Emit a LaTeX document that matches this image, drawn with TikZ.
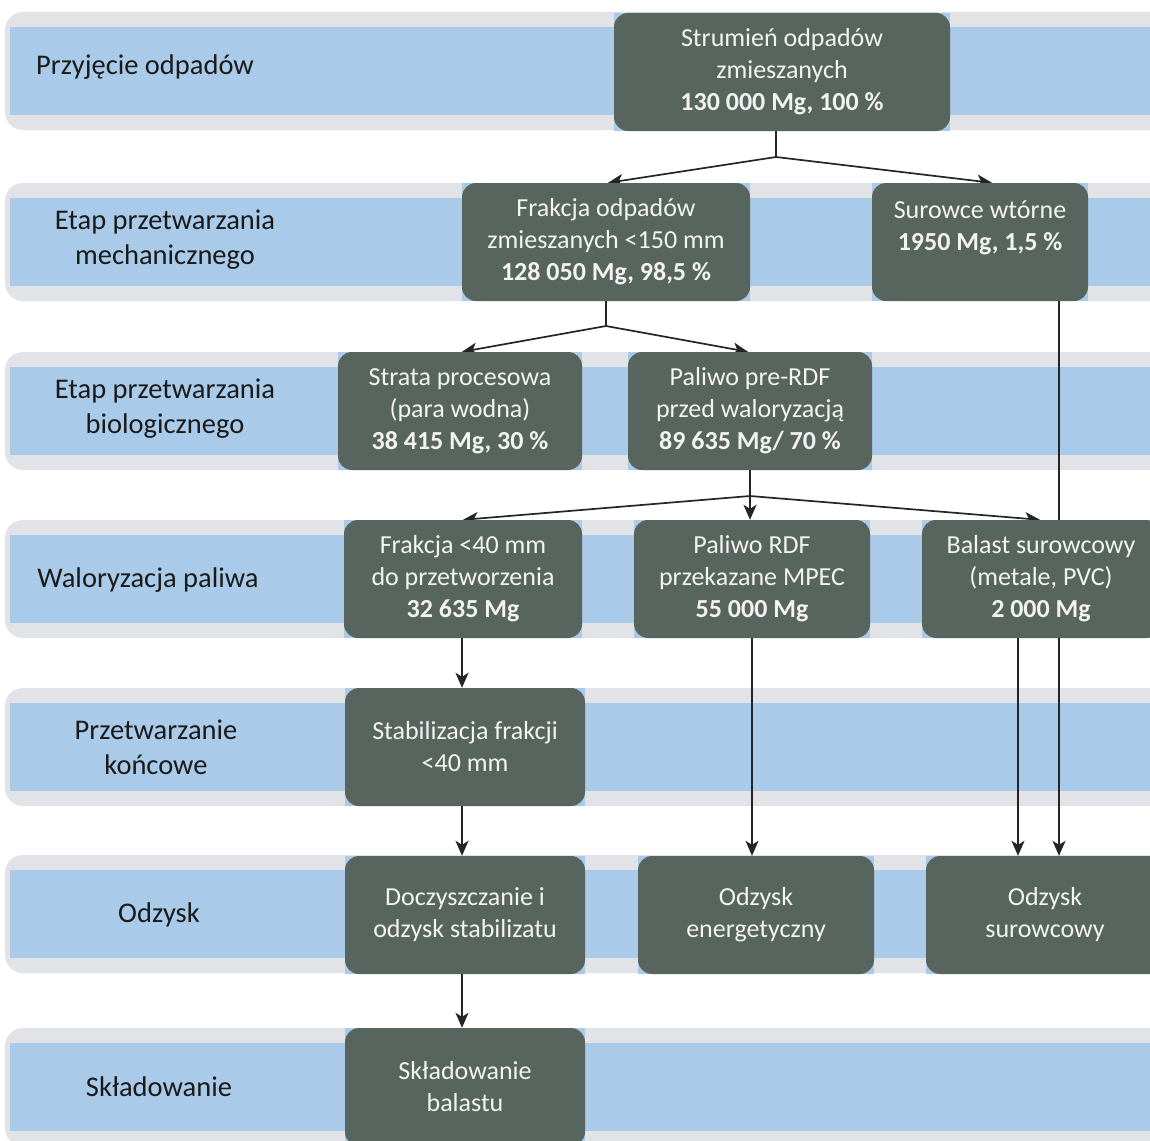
\documentclass[tikz,border=0pt]{standalone}
\usepackage{fontspec}
\setmainfont{Carlito}
\usetikzlibrary{arrows.meta,calc}
\definecolor{boxc}{RGB}{88,100,94}
\definecolor{boxtxt}{RGB}{242,243,242}
\definecolor{bandblue}{RGB}{169,203,233}
\definecolor{bandgray}{RGB}{225,227,230}
\definecolor{linec}{RGB}{38,36,38}
\definecolor{labc}{RGB}{26,26,26}
\pgfdeclarelayer{bg}
\pgfdeclarelayer{mid}
\pgfsetlayers{bg,mid,main}
\newcommand{\boxfont}{\fontsize{26}{32}\selectfont}
\newcommand{\labfont}{\fontsize{28.5}{35}\selectfont}
\tikzset{
  box/.style={rounded corners=14pt, fill=boxc, text=boxtxt, minimum height=118pt,
              align=center, font=\boxfont, inner sep=0pt},
  lab/.style={align=center, font=\labfont, text=labc, inner sep=0pt},
  ln/.style={draw=linec, line width=1.7pt},
  arr/.style={draw=linec, line width=1.7pt, -{Stealth[length=15pt,width=13pt,inset=4pt]}}
}
\begin{document}
\begin{tikzpicture}[x=1pt,y=-1pt]
\useasboundingbox (0,0) rectangle (1150,1140);
% bands
\begin{pgfonlayer}{bg}
\foreach \t in {12,183,352,520,688,855,1028} {
  \fill[bandgray, rounded corners=18pt] (5,\t) rectangle (1180,\t+118);
  \fill[bandblue] (10,\t+15) rectangle (1180,\t+103);
}
\end{pgfonlayer}
% row labels
\node[lab] (l1) at (145,67) {Przyjęcie odpadów};
\node[lab] (l2) at (165,240) {Etap przetwarzania\\mechanicznego};
\node[lab] (l3) at (165,409) {Etap przetwarzania\\biologicznego};
\node[lab] (l4) at (148,580) {Waloryzacja paliwa};
\node[lab] (l5) at (156,747) {Przetwarzanie\\końcowe};
\node[lab] (l6) at (159,915) {Odzysk};
\node[lab] (l7) at (159,1087) {Składowanie};
% boxes
\node[box, minimum width=336pt] (strum) at (782,72) {Strumień odpadów\\zmieszanych\\\textbf{130 000 Mg, 100 \%}};
\node[box, minimum width=288pt] (frak) at (606,242) {Frakcja odpadów\\zmieszanych <150 mm\\\textbf{128 050 Mg, 98,5 \%}};
\node[box, minimum width=216pt] (surow) at (980,242) {Surowce wtórne\\\textbf{1950 Mg, 1,5 \%}\\\mbox{}};
\node[box, minimum width=244pt] (strata) at (460,411) {Strata procesowa\\(para wodna)\\\textbf{38 415 Mg, 30 \%}};
\node[box, minimum width=244pt] (prerdf) at (750,411) {Paliwo pre-RDF\\przed waloryzacją\\\textbf{89 635 Mg/ 70 \%}};
\node[box, minimum width=238pt] (fr40) at (463,579) {Frakcja <40 mm\\do przetworzenia\\\textbf{32 635 Mg}};
\node[box, minimum width=236pt] (rdf) at (752,579) {Paliwo RDF\\przekazane MPEC\\\textbf{55 000 Mg}};
\node[box, minimum width=238pt] (balast) at (1041,579) {Balast surowcowy\\(metale, PVC)\\\textbf{2 000 Mg}};
\node[box, minimum width=240pt] (stab) at (465,747) {Stabilizacja frakcji\\<40 mm};
\node[box, minimum width=240pt] (docz) at (465,915) {Doczyszczanie i\\odzysk stabilizatu};
\node[box, minimum width=236pt] (energ) at (756,915) {Odzysk\\energetyczny};
\node[box, minimum width=238pt] (surowc) at (1045,915) {Odzysk\\surowcowy};
\node[box, minimum width=240pt] (sklad) at (465,1087) {Składowanie\\balastu};
% junctions and line positions
\coordinate (j1) at (776,157);
\coordinate (j2) at (606,326);
\coordinate (j3) at (750,496);
\coordinate (sx) at (1059,0);
\coordinate (bx) at (1018,0);
\begin{pgfonlayer}{mid}
\foreach \n in {strum,frak,surow,strata,prerdf,fr40,rdf,balast,stab,docz,energ,surowc,sklad}
  \fill[bandblue] (\n.north west) rectangle (\n.south east);
% connectors
\draw[ln] (j1 |- strum.south) -- (j1);
\draw[arr] (j1) -- ($(frak.north)+(2,0)$);
\draw[arr] (j1) -- ($(surow.north)+(12,0)$);
\draw[ln] (frak.south) -- (j2);
\draw[arr] (j2) -- ($(strata.north)+(2,0)$);
\draw[arr] (j2) -- ($(prerdf.north)+(-2,0)$);
\draw[ln] (prerdf.south) -- (j3);
\draw[arr] (j3) -- (fr40.north);
\draw[arr] (j3) -- (j3 |- rdf.north);
\draw[arr] (j3) -- ($(balast.north)+(-1,0)$);
\draw[arr] (surow.south -| sx) -- (surowc.north -| sx);
\draw[arr] (balast.south -| bx) -- (surowc.north -| bx);
\draw[arr] (rdf.south) -- (rdf.south |- energ.north);
\draw[arr] ($(fr40.south)+(-1,0)$) -- ($(fr40.south |- stab.north)+(-1,0)$);
\draw[arr] ($(stab.south)+(-3,0)$) -- ($(docz.north)+(-3,0)$);
\draw[arr] ($(docz.south)+(-3,0)$) -- ($(sklad.north)+(-3,0)$);
\end{pgfonlayer}
\end{tikzpicture}
\end{document}
